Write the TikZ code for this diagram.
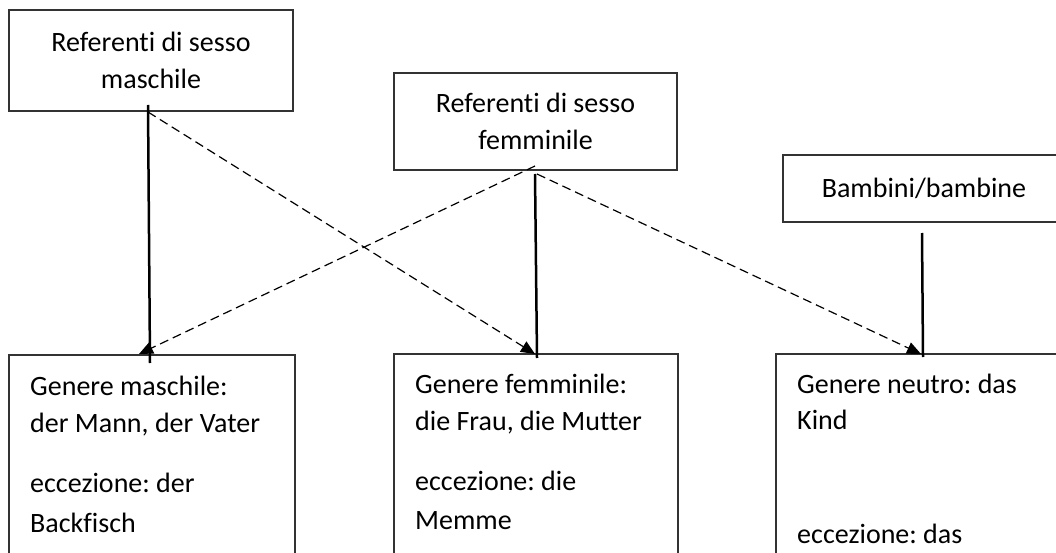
\documentclass[tikz,border=0pt]{standalone}
\usepackage{fontspec}
\setmainfont{Carlito}[Ligatures=CommonOff]
\frenchspacing
\usetikzlibrary{arrows.meta,calc}
\begin{document}
\begin{tikzpicture}[x=1pt,y=-1pt,
  box/.style={draw=black!80,line width=1.3pt,inner sep=0pt,outer sep=0pt,align=center,
    font=\fontsize{28}{37}\selectfont},
  txt/.style={anchor=base west,inner sep=0pt,font=\fontsize{28}{37}\selectfont},
  solidlink/.style={line width=2.5pt,black},
  dashlink/.style={line width=1.2pt,black,dash pattern=on 9pt off 5pt,
    -{Triangle[length=14pt,width=12pt]}}]
\useasboundingbox (0,0) rectangle (1056,553);
\clip (0,0) rectangle (1056,553);
\fill[white] (0,0) rectangle (1056,553);
% top boxes
\node[box,minimum width=284pt,minimum height=101pt] (mas) at (151,60.5) {Referenti di sesso\\maschile};
\node[box,minimum width=283pt,minimum height=97pt] (fem) at (535.5,121.5) {Referenti di sesso\\femminile};
\node[box,minimum width=279pt,minimum height=67pt] (bam) at (922.5,188.5) {\hspace*{3pt}Bambini/bambine};
% bottom boxes
\node[box,minimum width=286pt,minimum height=250pt] (gm) at (152,480) {};
\node[box,minimum width=284pt,minimum height=250pt] (gf) at (536,479) {};
\node[box,minimum width=286pt,minimum height=250pt] (gn) at (919,479) {};
% texts
\node[txt] (gm1) at ($(gm.north west)+(21,40)$) {Genere maschile:};
\node[txt] (gm2) at ($(gm.north west)+(21,77)$) {der Mann, der Vater};
\node[txt] (gm3) at ($(gm.north west)+(21,137)$) {eccezione: der};
\node[txt] (gm4) at ($(gm.north west)+(21,177)$) {Backfisch};
\node[txt] (gf1) at ($(gf.north west)+(21,39.5)$) {Genere femminile:};
\node[txt] (gf2) at ($(gf.north west)+(21,76.5)$) {die Frau, die Mutter};
\node[txt] (gf3) at ($(gf.north west)+(21,136.5)$) {eccezione: die};
\node[txt] (gf4) at ($(gf.north west)+(21,175)$) {Memme};
\node[txt] (gn1) at ($(gn.north west)+(21,39.5)$) {Genere neutro: das};
\node[txt] (gn2) at ($(gn.north west)+(21,75.5)$) {Kind};
\node[txt] (gn3) at ($(gn.north west)+(21,189)$) {eccezione: das};
% solid links
\draw[solidlink] ($(mas.south)+(-3,-6)$) -- ($(gm.north)+(-2,8)$);
\draw[solidlink] ($(fem.south)+(-0.5,4)$) -- ($(gf.north)+(1,4)$);
\draw[solidlink] ($(bam.south)+(-0.5,11)$) -- ($(gn.north)+(4,3)$);
% dashed links
\draw[dashlink] ($(mas.south)+(-3,1)$) -- ($(gf.north)+(-1,0)$);
\draw[dashlink] ($(fem.south)+(-0.5,-4)$) -- ($(gm.north)+(-13,-1)$);
\draw[dashlink] ($(fem.south)+(1.5,4)$) -- ($(gn.north)+(2,0)$);
\end{tikzpicture}
\end{document}
